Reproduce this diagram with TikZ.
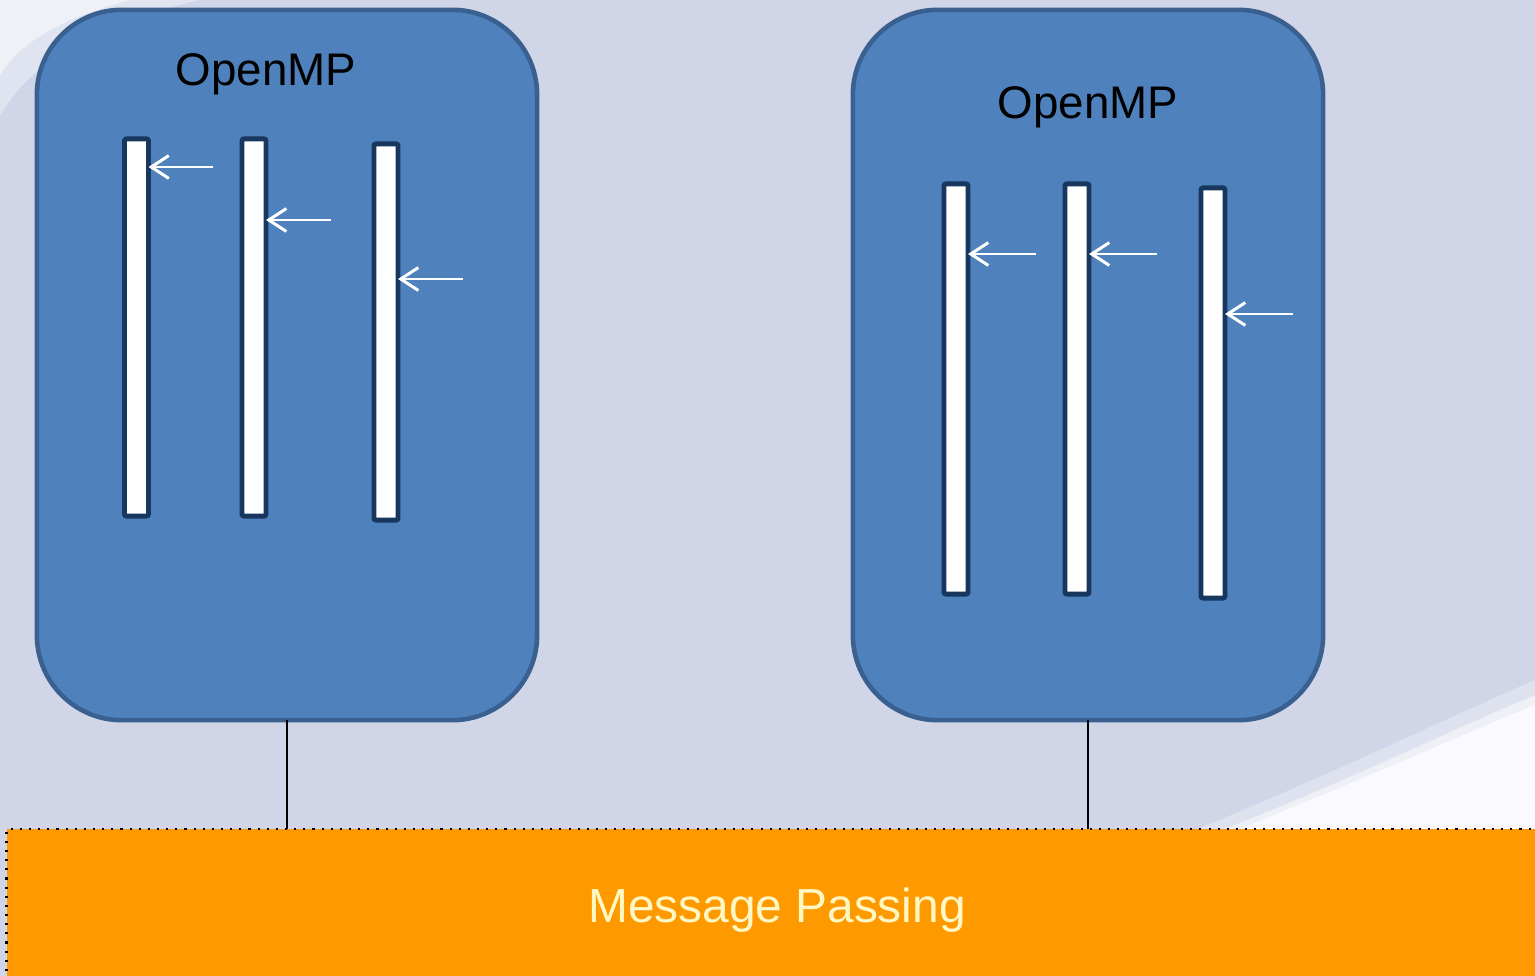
\documentclass[tikz,border=0pt]{standalone}
\usepackage{fontspec}
\setmainfont{Liberation Sans}
\usetikzlibrary{arrows.meta}
\definecolor{bgcol}{HTML}{D0D6E8}
\definecolor{boxfill}{HTML}{4F81BD}
\definecolor{boxedge}{HTML}{3A6090}
\definecolor{baredge}{HTML}{17375E}
\definecolor{mpfill}{HTML}{FF9900}
\definecolor{mptext}{HTML}{FFF8C4}
\tikzset{
  x=0.01cm, y=-0.01cm,
  nodebox/.style={draw=boxedge, fill=boxfill, line width=1.3pt,
    rounded corners=0.85cm, inner sep=0pt, outer sep=0pt},
  title/.style={font=\fontsize{13}{15}\selectfont, text=black, inner sep=0pt},
  thread/.style={draw=baredge, fill=white, line width=1.4pt,
    rounded corners=0.6pt, minimum width=0.24cm, inner sep=0pt, outer sep=0pt},
  spawn/.style={draw=white, line width=0.85pt,
    -{Straight Barb[length=5pt,width=6.5pt,line width=0.85pt]}},
  link/.style={draw=black, line width=0.6pt},
  mpbar/.style={draw=black, dotted, fill=mpfill, line width=0.6pt,
    inner sep=0pt, outer sep=0pt},
}
\begin{document}
\begin{tikzpicture}
\useasboundingbox (0,0) rectangle (1535,976);
\clip (0,0) rectangle (1535,976);
% backdrop with light swooshes
\fill[bgcol] (0,0) rectangle (1535,976);
\fill[white, opacity=0.35] (0,0) -- (200,0) .. controls (110,20) and (40,50) .. (0,115) -- cycle;
\fill[white, opacity=0.5] (0,0) -- (130,0) .. controls (75,15) and (25,35) .. (0,75) -- cycle;
\fill[white, opacity=0.3] (1120,860) .. controls (1300,790) and (1420,730) .. (1535,680) -- (1535,976) -- (1120,976) -- cycle;
\fill[white, opacity=0.5] (1170,850) .. controls (1330,790) and (1440,735) .. (1535,695) -- (1535,976) -- (1170,976) -- cycle;
\fill[white!96!blue!60!white] (1200,845) .. controls (1350,785) and (1450,740) .. (1535,705) -- (1535,976) -- (1200,976) -- cycle;

% message passing layer
\node[mpbar, minimum width=15.38cm, minimum height=1.56cm] (mp) at (776,907) {};
\node[text=mptext, font=\fontsize{13.6}{16}\selectfont, inner sep=0pt] (mpt) at (777,910) {Message Passing};

% left OpenMP node
\node[nodebox, minimum width=5cm, minimum height=7.1cm] (L) at (287,365) {};
\node[title] (Lt) at (266,74) {OpenMP};
\node[thread, minimum height=3.77cm] (l1) at (136.5,327.5) {};
\node[thread, minimum height=3.77cm] (l2) at (254,327.5) {};
\node[thread, minimum height=3.76cm] (l3) at (386,332) {};
\coordinate (la1) at (213,167);
\coordinate (la2) at (331,220);
\coordinate (la3) at (463,279);
\draw[spawn] (la1) -- (la1 -| l1.east);
\draw[spawn] (la2) -- (la2 -| l2.east);
\draw[spawn] (la3) -- (la3 -| l3.east);

% right OpenMP node
\node[nodebox, minimum width=4.7cm, minimum height=7.1cm] (R) at (1088,365) {};
\node[title] (Rt) at (1088,107) {OpenMP};
\node[thread, minimum height=4.1cm] (r1) at (956,389) {};
\node[thread, minimum height=4.1cm] (r2) at (1077,389) {};
\node[thread, minimum height=4.1cm] (r3) at (1213,393) {};
\coordinate (ra1) at (1036,254);
\coordinate (ra2) at (1157,254);
\coordinate (ra3) at (1293,314);
\draw[spawn] (ra1) -- (ra1 -| r1.east);
\draw[spawn] (ra2) -- (ra2 -| r2.east);
\draw[spawn] (ra3) -- (ra3 -| r3.east);

% links down to the message passing layer
\draw[link] (L.south) -- (L.south |- mp.north);
\draw[link] (R.south) -- (R.south |- mp.north);
\end{tikzpicture}
\end{document}
